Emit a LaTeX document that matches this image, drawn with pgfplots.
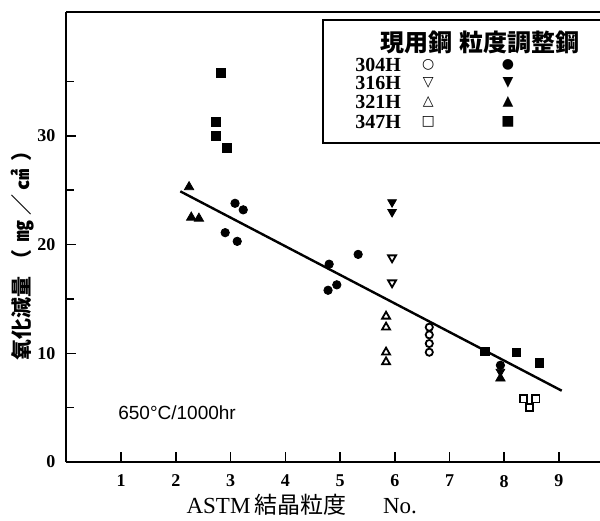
\documentclass[border=0pt]{standalone}
\usepackage{fontspec}
\usepackage{pgfplots}
\pgfplotsset{compat=1.18}
\setmainfont{Liberation Serif}
\newfontfamily\cjk{Noto Sans CJK JP}
\newfontfamily\sym{DejaVu Sans}
\newfontfamily\lsans{Liberation Sans}
\begin{document}
\begin{tikzpicture}
\begin{axis}[
  scale only axis, width=266.75pt, height=225pt,
  at={(0,0)}, anchor=south west,
  xmin=0, xmax=9.75, ymin=0, ymax=41.4,
  axis x line*=bottom, axis y line*=left,
  axis line style={line width=1pt, -},
  xtick={1,...,9}, ytick={0,10,20,30}, minor ytick={5,15,25,35},
  tick align=inside, major tick length=5pt, minor tick length=4pt,
  tick style={line width=0.8pt, black},
  ticklabel style={font=\bfseries\fontsize{9}{10}\selectfont},
  /pgf/number format/assume math mode=true,
  xticklabel style={anchor=north, yshift=-3pt},
  yticklabel style={anchor=east, xshift=-2pt},
  clip=false,
]
% regression line
\addplot[black, line width=1.2pt] coordinates {(2.08,24.9) (9.05,6.56)};
% 304H current (open circles)
\addplot[only marks, mark=o, mark size=1.8pt, mark options={line width=0.9pt}] coordinates {(6.63,12.4) (6.63,11.7) (6.63,10.9) (6.63,10.1)};
% 304H adjusted (filled circles)
\addplot[only marks, mark=*, mark size=2.1pt] coordinates {(3.08,23.8) (3.23,23.2) (2.90,21.1) (3.12,20.3) (5.33,19.1) (4.80,18.2) (4.94,16.3) (4.78,15.8) (7.93,8.9)};
% 316H current (open down triangles)
\addplot[only marks, mark=triangle, mark size=2.3pt, mark options={rotate=180, line width=0.9pt}] coordinates {(5.95,18.8) (5.95,16.5)};
% 316H adjusted
\addplot[only marks, mark=triangle*, mark size=2.5pt, mark options={rotate=180}] coordinates {(5.95,23.9) (5.95,23.0) (7.93,8.3)};
% 321H current (open triangles)
\addplot[only marks, mark=triangle, mark size=2.3pt, mark options={line width=0.9pt}] coordinates {(5.84,13.4) (5.84,12.4) (5.84,10.1) (5.84,9.2)};
% 321H adjusted
\addplot[only marks, mark=triangle*, mark size=2.7pt] coordinates {(2.24,25.3) (2.28,22.5) (2.42,22.4) (7.93,7.7)};
% 347H current (open squares)
\addplot[only marks, mark=square, mark size=1.8pt, mark options={line width=0.9pt}] coordinates {(8.35,5.8) (8.58,5.8) (8.46,5.0)};
% 347H adjusted
\addplot[only marks, mark=square*, mark size=2.1pt] coordinates {(2.82,35.8) (2.73,31.3) (2.73,30.0) (2.93,28.9) (7.65,10.2) (8.22,10.1) (8.64,9.1)};
% top frame line
\draw[line width=1pt] (rel axis cs:0,1) -- (rel axis cs:1,1);
% legend box
\draw[line width=1pt] (axis cs:4.69,29.35) rectangle (axis cs:10.2,40.66);
\node[anchor=center, font=\cjk\bfseries\fontsize{12}{12}\selectfont] at (axis cs:7.55,38.6) {現用鋼\hspace{0.3em}粒度調整鋼};
\node[anchor=west, font=\bfseries\fontsize{10}{10}\selectfont, inner sep=0pt] at (axis cs:5.27,36.5) {304H};
\node[anchor=west, font=\bfseries\fontsize{10}{10}\selectfont, inner sep=0pt] at (axis cs:5.27,34.85) {316H};
\node[anchor=west, font=\bfseries\fontsize{10}{10}\selectfont, inner sep=0pt] at (axis cs:5.27,33.1) {321H};
\node[anchor=west, font=\bfseries\fontsize{10}{10}\selectfont, inner sep=0pt] at (axis cs:5.27,31.3) {347H};
\node[font=\sym\bfseries\fontsize{7}{7}\selectfont, inner sep=0pt] at (axis cs:6.61,36.5) {○};
\node[font=\sym\bfseries\fontsize{7}{7}\selectfont, inner sep=0pt] at (axis cs:6.61,34.85) {▽};
\node[font=\sym\bfseries\fontsize{7}{7}\selectfont, inner sep=0pt] at (axis cs:6.61,33.1) {△};
\node[font=\sym\bfseries\fontsize{7}{7}\selectfont, inner sep=0pt] at (axis cs:6.61,31.3) {□};
\node[font=\sym\fontsize{7}{7}\selectfont, inner sep=0pt] at (axis cs:8.07,36.5) {●};
\node[font=\sym\fontsize{7}{7}\selectfont, inner sep=0pt] at (axis cs:8.07,34.85) {▼};
\node[font=\sym\fontsize{7}{7}\selectfont, inner sep=0pt] at (axis cs:8.07,33.1) {▲};
\node[font=\sym\fontsize{7}{7}\selectfont, inner sep=0pt] at (axis cs:8.07,31.3) {■};
% annotation
\node[anchor=west, font=\lsans\fontsize{9.5}{10}\selectfont, inner sep=0pt] at (axis cs:0.94,4.5) {650°C/1000hr};
% x label
\node[anchor=center, font=\fontsize{11.5}{11.5}\selectfont, inner sep=0pt] at (axis cs:4.3,-3.9) {ASTM\,{\cjk 結晶粒度}\hspace{1.6em}No.};
% y label
\node[rotate=90, anchor=center, font=\cjk\bfseries\fontsize{10.5}{10.5}\selectfont, inner sep=0pt] at ([xshift=-21.75pt]rel axis cs:0,0.47) {氧化減量\hspace{0.3em}（\hspace{0.4em}㎎\hspace{0.2em}／\hspace{0.2em}㎠\hspace{0.4em}）};
\end{axis}
\pgfresetboundingbox
\path (-33.25pt,-29pt) rectangle (266.75pt,231pt);
\end{tikzpicture}
\end{document}
